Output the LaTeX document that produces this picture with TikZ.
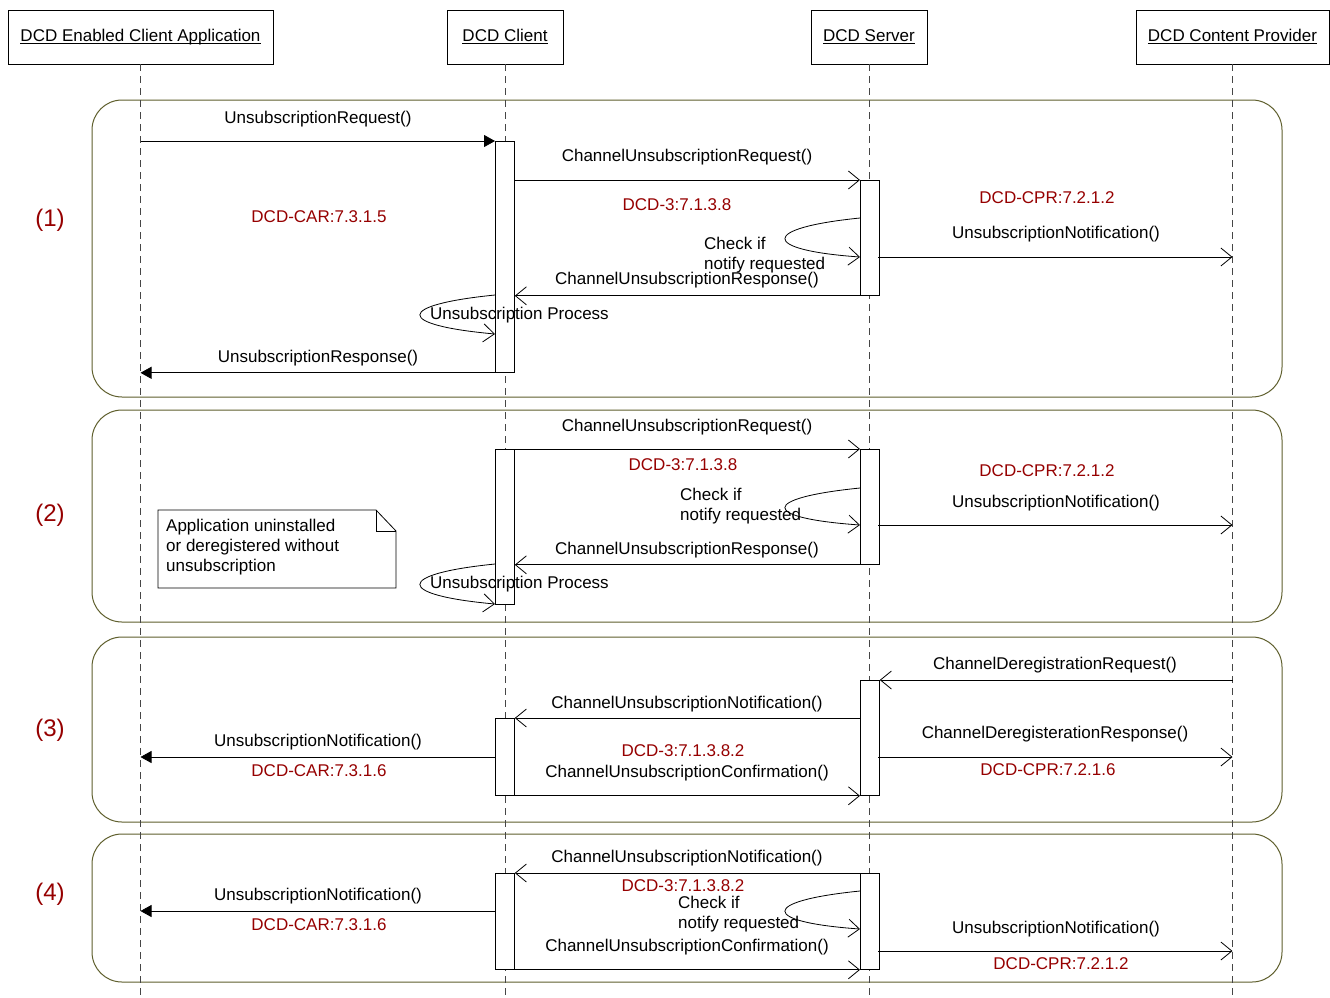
\documentclass[tikz,border=0pt]{standalone}
\usepackage{fontspec}
\setmainfont{Liberation Sans}
\usetikzlibrary{arrows.meta}
\definecolor{refred}{RGB}{150,0,0}
\definecolor{frameol}{RGB}{95,95,45}
\definecolor{lifegray}{RGB}{70,70,70}
\newcommand{\headul}[1]{\underline{\smash{#1}\vphantom{D}}}
\begin{document}
\begin{tikzpicture}[x=1pt,y=-1pt,
  every node/.style={font=\fontsize{17}{20}\selectfont, inner sep=0pt},
  head/.style={draw, line width=0.8pt, minimum height=54pt, fill=white},
  life/.style={draw=lifegray, dash pattern=on 7pt off 5pt, line width=1pt},
  frm/.style={draw=frameol, rounded corners=30pt, line width=1pt},
  act/.style={draw, fill=white, line width=0.8pt, minimum width=19pt, anchor=north west},
  msg/.style={draw, line width=0.8pt, -{Straight Barb[length=11pt,width=18pt]}},
  call/.style={draw, line width=0.8pt, -{Triangle[length=11pt,width=12pt]}},
  refl/.style={text=refred},
  num/.style={text=refred, font=\fontsize{24}{28}\selectfont},
  notebox/.style={draw, line width=0.8pt, fill=white},
]
\useasboundingbox (0,0) rectangle (1330,997);
\fill[white] (0,0) rectangle (1330,997);
\coordinate (bot) at (0,997);

% headers
\node[head, minimum width=265pt] (app) at (140.5,37) {\headul{DCD Enabled Client Application}};
\node[head, minimum width=116pt] (cli) at (505,37) {\headul{DCD Client}};
\node[head, minimum width=116pt] (srv) at (869,37) {\headul{DCD Server}};
\node[head, minimum width=193pt] (prov) at (1232.5,37) {\headul{DCD Content Provider}};

% frames
\draw[frm] (92,100) rectangle (1282,397);
\draw[frm] (92,410) rectangle (1282,622);
\draw[frm] (92,637) rectangle (1282,822);
\draw[frm] (92,834) rectangle (1282,982);

% lifelines
\draw[life] (app.south) -- (app.south |- bot);
\draw[life] (cli.south) -- (cli.south |- bot);
\draw[life] (srv.south) -- (srv.south |- bot);
\draw[life] (prov.south) -- (prov.south |- bot);

% section numbers
\node[num] at (50,220) {(1)};
\node[num] at (50,515) {(2)};
\node[num] at (50,730) {(3)};
\node[num] at (50,894) {(4)};

%%%% Section 1
\node[act, minimum height=231pt] (c1) at (495,141) {};
\node[act, minimum height=115pt] (s1) at (860,180) {};
\draw[call] (app |- c1.north west) -- (c1.north west);
\draw[msg] (c1.north east |- s1.north west) -- (s1.north west);
\coordinate (sc1a) at (860,218);
\coordinate (sc1b) at (860,257);
\draw[msg] (sc1a) .. controls (760,228) and (760,250) .. (sc1b);
\coordinate (n1) at (878,257);
\draw[msg] (n1) -- (prov |- n1);
\draw[msg] (s1.south west) -- (c1.east |- s1.south west);
\coordinate (cc1a) at (495,295);
\coordinate (cc1b) at (495,334);
\draw[msg] (cc1a) .. controls (395,305) and (395,325) .. (cc1b);
\draw[call] (c1.south west) -- (app |- c1.south west);

\node at (318,119) {UnsubscriptionRequest()};
\node at (687,157) {ChannelUnsubscriptionRequest()};
\node[refl] at (677,205) {DCD-3:7.1.3.8};
\node[refl] at (319,217) {DCD-CAR:7.3.1.5};
\node[anchor=west, align=left] at (704,255) {Check if\\notify requested};
\node at (1056,234) {UnsubscriptionNotification()};
\node[refl] at (1047,198) {DCD-CPR:7.2.1.2};
\node at (687,280) {ChannelUnsubscriptionResponse()};
\node[anchor=west] at (430,315) {Unsubscription Process};
\node at (318,358) {UnsubscriptionResponse()};

%%%% Section 2
\node[act, minimum height=155pt] (c2) at (495,449) {};
\node[act, minimum height=115pt] (s2) at (860,449) {};
\draw[msg] (c2.north east) -- (s2.north west);
\coordinate (sc2a) at (860,488);
\coordinate (sc2b) at (860,525);
\draw[msg] (sc2a) .. controls (760,498) and (760,518) .. (sc2b);
\coordinate (n2) at (878,525);
\draw[msg] (n2) -- (prov |- n2);
\draw[msg] (s2.south west) -- (c2.east |- s2.south west);
\coordinate (cc2a) at (495,564);
\coordinate (cc2b) at (495,604);
\draw[msg] (cc2a) .. controls (395,574) and (395,595) .. (cc2b);

\node at (687,427) {ChannelUnsubscriptionRequest()};
\node[refl] at (683,465) {DCD-3:7.1.3.8};
\node[anchor=west, align=left] at (680,506.5) {Check if\\notify requested};
\node at (1056,503) {UnsubscriptionNotification()};
\node[refl] at (1047,471) {DCD-CPR:7.2.1.2};
\node at (687,550) {ChannelUnsubscriptionResponse()};
\node[anchor=west] at (430,584) {Unsubscription Process};

\draw[notebox] (158,510) -- (376,510) -- (396,531) -- (396,588) -- (158,588) -- cycle;
\draw[line width=0.8pt] (376,510) -- (376,531) -- (396,531);
\node[anchor=north west, align=left] (note) at (166,519) {Application uninstalled\\or deregistered without\\unsubscription};

%%%% Section 3
\node[act, minimum height=115pt] (s3) at (860,680) {};
\node[act, minimum height=77pt] (c3) at (495,718) {};
\draw[msg] (prov |- s3.north east) -- (s3.north east);
\draw[msg] (s3.west |- c3.north east) -- (c3.north east);
\coordinate (u3) at (495,757);
\draw[call] (u3) -- (app |- u3);
\draw[msg] (c3.south east) -- (s3.south west);
\coordinate (d3) at (878,757);
\draw[msg] (d3) -- (prov |- d3);

\node at (1055,665) {ChannelDeregistrationRequest()};
\node at (687,704) {ChannelUnsubscriptionNotification()};
\node at (318,742) {UnsubscriptionNotification()};
\node[refl] at (319,771) {DCD-CAR:7.3.1.6};
\node[refl] at (683,751) {DCD-3:7.1.3.8.2};
\node at (687,773) {ChannelUnsubscriptionConfirmation()};
\node at (1055,734) {ChannelDeregisterationResponse()};
\node[refl] at (1048,770) {DCD-CPR:7.2.1.6};

%%%% Section 4
\node[act, minimum height=96pt] (c4) at (495,873) {};
\node[act, minimum height=96pt] (s4) at (860,873) {};
\draw[msg] (s4.north west) -- (c4.north east);
\coordinate (u4) at (495,911);
\draw[call] (u4) -- (app |- u4);
\coordinate (sc4a) at (860,891);
\coordinate (sc4b) at (860,929);
\draw[msg] (sc4a) .. controls (760,901) and (760,922) .. (sc4b);
\draw[msg] (c4.south east) -- (s4.south west);
\coordinate (n4) at (878,951);
\draw[msg] (n4) -- (prov |- n4);

\node at (687,858) {ChannelUnsubscriptionNotification()};
\node at (318,896) {UnsubscriptionNotification()};
\node[refl] at (319,925) {DCD-CAR:7.3.1.6};
\node[refl] at (683,886) {DCD-3:7.1.3.8.2};
\node[anchor=west, align=left] at (678,914.5) {Check if\\notify requested};
\node at (687,947) {ChannelUnsubscriptionConfirmation()};
\node at (1056,929) {UnsubscriptionNotification()};
\node[refl] at (1061,964) {DCD-CPR:7.2.1.2};
\end{tikzpicture}
\end{document}
